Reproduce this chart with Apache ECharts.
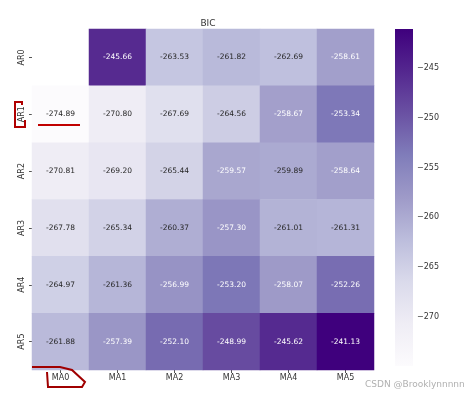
<!DOCTYPE html>
<html><head><meta charset="utf-8">
<script src="https://cdn.jsdelivr.net/npm/echarts@6/dist/echarts.min.js"></script>
<style>html,body{margin:0;padding:0;background:#fff}#c{width:465px;height:395px}</style>
</head><body><div id="c"></div>
<script>
const rows = ['AR0','AR1','AR2','AR3','AR4','AR5'];
const cols = ['MA0','MA1','MA2','MA3','MA4','MA5'];
const AR0 = [null, -245.66, -263.53, -261.82, -262.69, -258.61];
const AR1 = [-274.89, -270.80, -267.69, -264.56, -258.67, -253.34];
const AR2 = [-270.81, -269.20, -265.44, -259.57, -259.89, -258.64];
const AR3 = [-267.78, -265.34, -260.37, -257.30, -261.01, -261.31];
const AR4 = [-264.97, -261.36, -256.99, -253.20, -258.07, -252.26];
const AR5 = [-261.88, -257.39, -252.10, -248.99, -245.62, -241.13];
const colorbarTicks = [-270, -265, -260, -255, -250, -245];
const vmin = -274.89, vmax = -241.13;
const purples = ['#fcfbfd','#efedf5','#dadaeb','#bcbddc','#9e9ac8','#807dba','#6a51a3','#54278f','#3f007d'];

const table = [AR0, AR1, AR2, AR3, AR4, AR5];
const data = [];
table.forEach((r, i) => r.forEach((v, j) => {
  if (v === null) return;
  data.push({value: [j, i, v], label: {color: v > -259.7 ? '#ffffff' : '#262626'}});
}));

const gradStops = purples.map((c, k) => ({offset: 1 - k / (purples.length - 1), color: c}));

const chart = echarts.init(document.getElementById('c'));
chart.setOption({
  animation: false,
  backgroundColor: '#ffffff',
  title: {text: 'BIC', left: 203, top: 14, textAlign: 'center',
    textStyle: {fontSize: 9, fontWeight: 'normal', color: '#333', fontFamily: 'DejaVu Sans'}},
  grid: [
    {left: 32, right: 91, top: 29, bottom: 25},
    {left: 395, width: 18, top: 29, bottom: 29}
  ],
  xAxis: [
    {type: 'category', data: cols, gridIndex: 0,
      axisLine: {show: false}, splitLine: {show: false},
      axisTick: {show: true, alignWithLabel: true, length: 3, lineStyle: {color: '#555'}},
      axisLabel: {fontSize: 8, color: '#333', fontFamily: 'DejaVu Sans', margin: 4}},
    {type: 'value', gridIndex: 1, show: false, min: 0, max: 1}
  ],
  yAxis: [
    {type: 'category', data: rows, inverse: true, gridIndex: 0,
      axisLine: {show: false}, splitLine: {show: false},
      axisTick: {show: true, alignWithLabel: true, length: 3, lineStyle: {color: '#555'}},
      axisLabel: {fontSize: 8, color: '#333', rotate: 90, fontFamily: 'DejaVu Sans', margin: 6}},
    {type: 'value', gridIndex: 1, position: 'right', min: vmin, max: vmax,
      axisLine: {show: false}, splitLine: {show: false},
      axisTick: {show: true, length: 3, customValues: colorbarTicks, lineStyle: {color: '#555'}},
      axisLabel: {fontSize: 8, color: '#333', fontFamily: 'DejaVu Sans', margin: 4,
        customValues: colorbarTicks, formatter: v => '\u2212' + Math.abs(v)}}
  ],
  visualMap: {
    type: 'continuous', min: vmin, max: vmax, seriesIndex: 0, show: false,
    inRange: {color: purples}
  },
  series: [{
    type: 'heatmap', xAxisIndex: 0, yAxisIndex: 0, data: data,
    label: {show: true, fontSize: 7.5, fontFamily: 'DejaVu Sans',
      formatter: p => p.value[2].toFixed(2)},
    itemStyle: {borderWidth: 0}
  }],
  graphic: [
    {type: 'rect', z: 50, shape: {x: 395, y: 29, width: 18, height: 337},
      style: {fill: new echarts.graphic.LinearGradient(0, 0, 0, 1, gradStops)}},
    {type: 'polyline', z: 100, shape: {points: [[22,105],[22,102],[15,102],[15,127],[25,127],[25,120]]},
      style: {stroke: '#b00000', lineWidth: 2, fill: null}},
    {type: 'line', z: 100, shape: {x1: 38, y1: 125, x2: 80, y2: 125}, style: {stroke: '#c00000', lineWidth: 2}},
    {type: 'polyline', z: 100, smooth: 0.4, shape: {points: [[32,367],[60,367],[72,370],[85,382],[82,387],[48,387],[47,372]]},
      style: {stroke: '#a00000', lineWidth: 2, fill: null}},
    {type: 'text', z: 100, left: 365, top: 380, style: {text: 'CSDN @Brooklynnnnnr', fontSize: 9, fill: '#b0b0b0', fontFamily: 'DejaVu Sans'}}
  ]
});
</script></body></html>
